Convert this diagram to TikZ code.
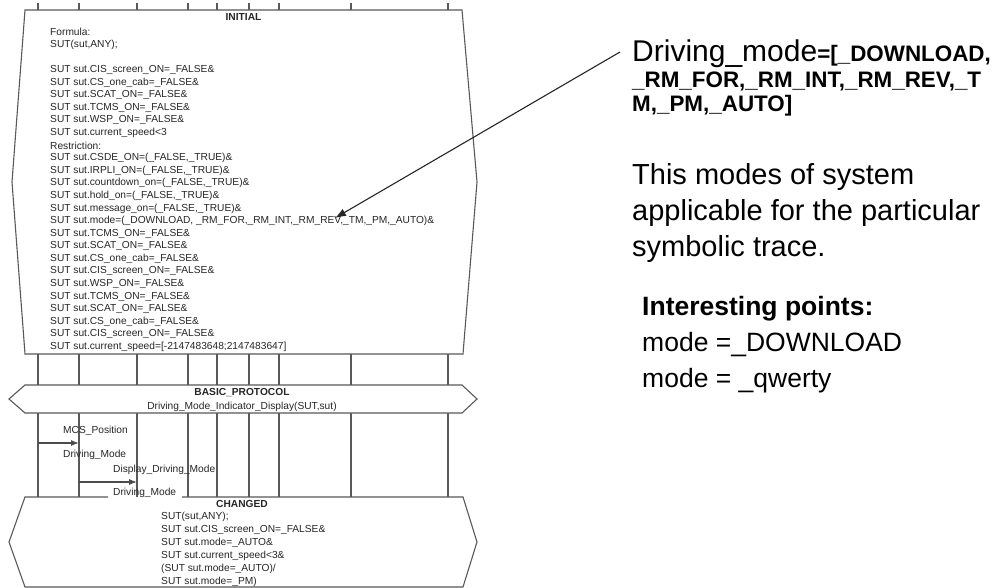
\documentclass[tikz,border=0pt]{standalone}
\usepackage{fontspec}
\setmainfont{Liberation Sans}
\usetikzlibrary{arrows.meta}
\begin{document}
\begin{tikzpicture}[x=1pt,y=-1pt,
  ln/.style={draw=black!65, line width=1.1pt},
  dtxt/.style={font=\fontsize{10.2}{12}\selectfont, inner sep=0pt, anchor=west, text=black!85},
  dttl/.style={font=\fontsize{10.2}{12}\selectfont\bfseries, inner sep=0pt, text=black!85},
  msg/.style={draw=black!70, line width=1.1pt, -{Latex[length=8pt,width=6pt]}},
  rbig/.style={anchor=base west, inner sep=0pt, font=\fontsize{29}{32}\selectfont},
  rmid/.style={anchor=base west, inner sep=0pt, font=\fontsize{26.5}{30}\selectfont},
  rbr/.style={anchor=base west, inner sep=0pt, font=\fontsize{22.4}{25}\selectfont\bfseries}]
\useasboundingbox (0,0) rectangle (996,588);
\fill[white] (0,0) rectangle (996,588);

% lifelines
\foreach \x in {38,79,137,188,217,249,279,351,448} {
  \draw[ln] (\x,3) -- (\x,10);
  \draw[ln] (\x,354) -- (\x,385);
  \draw[ln] (\x,413) -- (\x,497);
}

% INITIAL box
\draw[ln] (25,10) -- (462,10) -- (477,182) -- (463,354) -- (25,354) -- (12,182) -- cycle;
\node[dttl] (tinit) at (243.5,17) {INITIAL};
\node[dtxt] (i0) at (50,32) {Formula:};
\node[dtxt] (i1) at (50,44.6) {SUT(sut,ANY);};
\node[dtxt] (i3) at (50,69.8) {SUT sut.CIS\_screen\_ON=\_FALSE\&};
\node[dtxt] (i4) at (50,82.4) {SUT sut.CS\_one\_cab=\_FALSE\&};
\node[dtxt] (i5) at (50,95) {SUT sut.SCAT\_ON=\_FALSE\&};
\node[dtxt] (i6) at (50,107.6) {SUT sut.TCMS\_ON=\_FALSE\&};
\node[dtxt] (i7) at (50,120.2) {SUT sut.WSP\_ON=\_FALSE\&};
\node[dtxt] (i8) at (50,132.8) {SUT sut.current\_speed<3};
\node[dtxt] (i9) at (50,145.4) {Restriction:};
\node[dtxt] (i10) at (50,158) {SUT sut.CSDE\_ON=(\_FALSE,\_TRUE)\&};
\node[dtxt] (i11) at (50,170.6) {SUT sut.IRPLI\_ON=(\_FALSE,\_TRUE)\&};
\node[dtxt] (i12) at (50,183.2) {SUT sut.countdown\_on=(\_FALSE,\_TRUE)\&};
\node[dtxt] (i13) at (50,195.8) {SUT sut.hold\_on=(\_FALSE,\_TRUE)\&};
\node[dtxt] (i14) at (50,208.4) {SUT sut.message\_on=(\_FALSE,\_TRUE)\&};
\node[dtxt] (i15) at (50,221) {SUT sut.mode=(\_DOWNLOAD, \_RM\_FOR,\_RM\_INT,\_RM\_REV,\_TM,\_PM,\_AUTO)\&};
\node[dtxt] (i16) at (50,233.6) {SUT sut.TCMS\_ON=\_FALSE\&};
\node[dtxt] (i17) at (50,246.2) {SUT sut.SCAT\_ON=\_FALSE\&};
\node[dtxt] (i18) at (50,258.8) {SUT sut.CS\_one\_cab=\_FALSE\&};
\node[dtxt] (i19) at (50,271.4) {SUT sut.CIS\_screen\_ON=\_FALSE\&};
\node[dtxt] (i20) at (50,284) {SUT sut.WSP\_ON=\_FALSE\&};
\node[dtxt] (i21) at (50,296.6) {SUT sut.TCMS\_ON=\_FALSE\&};
\node[dtxt] (i22) at (50,309.2) {SUT sut.SCAT\_ON=\_FALSE\&};
\node[dtxt] (i23) at (50,321.8) {SUT sut.CS\_one\_cab=\_FALSE\&};
\node[dtxt] (i24) at (50,334.4) {SUT sut.CIS\_screen\_ON=\_FALSE\&};
\node[dtxt] (i25) at (50,347) {SUT sut.current\_speed=[-2147483648;2147483647]};

% BASIC_PROTOCOL
\draw[ln, fill=white] (25,385) -- (462,385) -- (477,399) -- (462,413) -- (25,413) -- (9,399) -- cycle;
\node[dttl] (tbasic) at (242,393) {BASIC\_PROTOCOL};
\node[dttl, font=\fontsize{10.2}{12}\selectfont] (tdmid) at (242,406.5) {Driving\_Mode\_Indicator\_Display(SUT,sut)};

% messages
\coordinate (m1s) at (38,443);
\coordinate (m1e) at (79,443);
\coordinate (m2s) at (79,482);
\coordinate (m2e) at (137,482);
\draw[msg] (m1s) -- (m1e);
\draw[msg] (m2s) -- (m2e);
\node[dtxt] (lmcs) at (63,431) {MCS\_Position};
\node[dtxt] (ldm1) at (63,455) {Driving\_Mode};
\node[dtxt] (lddm) at (113,470) {Display\_Driving\_Mode};
\node[dtxt] (ldm2) at (113,493) {Driving\_Mode};

% CHANGED box
\draw[ln] (108,497) -- (25,497) -- (9,542) -- (25,587) -- (463,587) -- (477,542) -- (463,497) -- (182,497);
\node[dttl] (tchg) at (242,504) {CHANGED};
\node[dtxt] (c0) at (161,517) {SUT(sut,ANY);};
\node[dtxt] (c1) at (161,530) {SUT sut.CIS\_screen\_ON=\_FALSE\&};
\node[dtxt] (c2) at (161,543) {SUT sut.mode=\_AUTO\&};
\node[dtxt] (c3) at (161,556) {SUT sut.current\_speed<3\&};
\node[dtxt] (c4) at (161,569) {(SUT sut.mode=\_AUTO)/};
\node[dtxt] (c5) at (161,582) {SUT sut.mode=\_PM)};

% right-hand annotation
\node[anchor=base west, inner sep=0pt, font=\fontsize{30}{32}\selectfont] (dm1) at (632,62) {Driving\_mode{\fontsize{22.4}{25}\selectfont\bfseries =[\_DOWNLOAD,}};
\node[rbr] (dm2) at (632,88) {\_RM\_FOR,\_RM\_INT,\_RM\_REV,\_T};
\node[rbr] (dm3) at (632,112) {M,\_PM,\_AUTO]};
\coordinate (astart) at (620,52);
\coordinate (aend) at (335,218);
\draw[black!85, line width=1.1pt, -{Latex[length=11pt,width=8pt]}] (astart) -- (aend);

\node[rbig] (t1) at (632,185) {This modes of system};
\node[rbig] (t2) at (632,221) {applicable for the particular};
\node[rbig] (t3) at (632,257) {symbolic trace.};

\node[rmid, font=\fontsize{26.5}{30}\selectfont\bfseries] (p0) at (642,315) {Interesting points:};
\node[rmid] (p1) at (642,351) {mode =\_DOWNLOAD};
\node[rmid] (p2) at (642,387) {mode = \_qwerty};
\end{tikzpicture}
\end{document}
